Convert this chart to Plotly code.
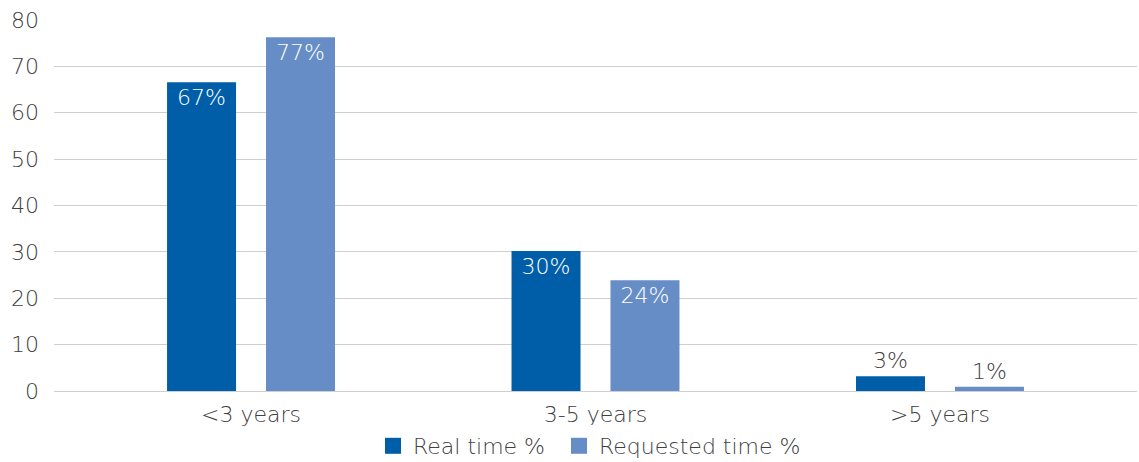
import plotly.graph_objects as go

categories = ["<3 years", "3-5 years", ">5 years"]
real_values = [66.6, 30.2, 3.2]
requested_values = [76.3, 23.9, 0.9]
real_labels = ["67%", "30%", "3%"]
requested_labels = ["77%", "24%", "1%"]
y_ticks = [0, 10, 20, 30, 40, 50, 60, 70, 80]
series_names = ["Real time %", "Requested time %"]
series_colors = ["#005EA8", "#678DC6"]

FONT = "DejaVu Sans"
TXT = "#404040"
FS = 22
BAR_W = 0.2003
OFFSETS = [-0.2438, 0.0435]

fig = go.Figure()
for name, vals, labels, color, off in zip(series_names,
                                          [real_values, requested_values],
                                          [real_labels, requested_labels],
                                          series_colors, OFFSETS):
    fig.add_trace(go.Bar(
        name=name, x=categories, y=vals, text=labels,
        marker_color=color, marker_line_width=0,
        width=BAR_W, offset=off,
        textposition=["inside", "inside", "outside"],
        insidetextanchor="end", textangle=0,
        insidetextfont=dict(color="white", size=FS, family=FONT, weight=200),
        outsidetextfont=dict(color=TXT, size=FS, family=FONT, weight=200),
        cliponaxis=False, showlegend=False,
    ))
# legend entries with larger square swatches
for i, (name, color) in enumerate(zip(series_names, series_colors)):
    fig.add_trace(go.Scatter(
        name=name, x=[None], y=[None], mode="markers",
        marker=dict(symbol="square", size=16, color=color),
        showlegend=True,
        legendwidth=141 if i == 0 else None,
    ))

fig.update_layout(
    width=1139, height=462,
    margin=dict(l=54, r=2, t=20, b=71),
    paper_bgcolor="white", plot_bgcolor="white",
    font=dict(family=FONT, size=FS, color=TXT, weight=200),
    barmode="overlay",
    showlegend=True,
    legend=dict(orientation="h", x=0.5 - 6 / 1083, xanchor="center", xref="paper",
                y=16 / 462, yanchor="middle", yref="container",
                font=dict(size=FS, color=TXT, family=FONT, weight=200),
                itemwidth=30, tracegroupgap=0),
)
fig.update_xaxes(range=[-0.572, 2.572], showgrid=False, showline=False,
                 ticks="", ticklabelstandoff=8, automargin=False,
                 tickfont=dict(size=FS, color=TXT))
fig.update_yaxes(range=[0, 80], tickvals=y_ticks, showgrid=True,
                 gridcolor="#CFCFCF", gridwidth=1.3, zeroline=True,
                 zerolinecolor="#CFCFCF", zerolinewidth=1.3, showline=False,
                 ticks="", ticklabelstandoff=14, automargin=False,
                 tickfont=dict(size=FS, color=TXT))

fig.write_html("out.html",
               config={"displayModeBar": False},
               post_script="document.body.style.margin='0';document.body.style.overflow='hidden';")
